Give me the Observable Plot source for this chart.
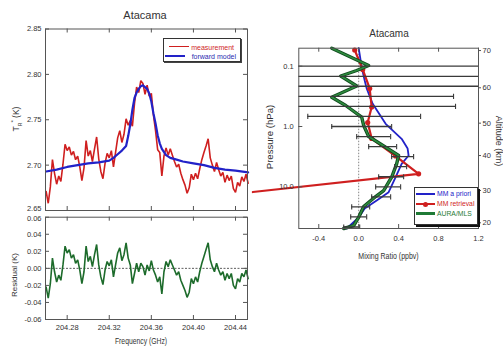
<!DOCTYPE html>
<html><head><meta charset="utf-8">
<script src="https://cdn.jsdelivr.net/npm/d3@7"></script>
<script src="https://cdn.jsdelivr.net/npm/@observablehq/plot@0.6"></script>
<style>
body{margin:0;background:#fff;}
#root{position:relative;width:503px;height:347px;overflow:hidden;font-family:"Liberation Sans",Arial,sans-serif;color:#222;background:#fff;}
.lab{position:absolute;white-space:nowrap;line-height:1;}
svg{overflow:visible;}
</style></head><body><div id="root"></div>
<script>
// ---------- Left panels: spectrum and residual ----------
const specFreq = [204.260,204.262,204.264,204.266,204.268,204.270,204.272,204.274,204.276,204.278,
204.280,204.282,204.284,204.286,204.288,204.290,204.292,204.294,204.296,204.298,
204.300,204.302,204.304,204.306,204.308,204.310,204.312,204.314,204.316,204.318,
204.320,204.322,204.324,204.326,204.328,204.330,204.332,204.334,204.336,204.338,
204.340,204.342,204.344,204.346,204.348,204.350,204.352,204.354,204.356,204.358,
204.360,204.362,204.364,204.366,204.368,204.370,204.372,204.374,204.376,204.378,
204.380,204.382,204.384,204.386,204.388,204.390,204.392,204.394,204.396,204.398,
204.400,204.402,204.404,204.406,204.408,204.410,204.412,204.414,204.416,204.418,
204.420,204.422,204.424,204.426,204.428,204.430,204.432,204.434,204.436,204.438,
204.440,204.442,204.444,204.446,204.448,204.450,204.452];
const measurement = [2.671,2.658,2.676,2.706,2.691,2.679,2.688,2.682,2.701,2.723,
2.716,2.720,2.711,2.715,2.706,2.710,2.698,2.683,2.697,2.727,
2.710,2.716,2.704,2.718,2.731,2.707,2.693,2.685,2.702,2.713,
2.708,2.716,2.698,2.714,2.730,2.738,2.725,2.734,2.751,2.744,
2.749,2.743,2.768,2.786,2.780,2.793,2.790,2.778,2.788,2.776,
2.779,2.755,2.738,2.717,2.714,2.688,2.710,2.719,2.711,2.718,
2.711,2.704,2.698,2.701,2.691,2.684,2.678,2.669,2.675,2.690,
2.684,2.691,2.685,2.696,2.706,2.714,2.721,2.729,2.708,2.700,
2.693,2.703,2.695,2.688,2.692,2.681,2.689,2.683,2.688,2.674,
2.670,2.681,2.677,2.687,2.682,2.690,2.680];
const residual = [-0.022,-0.035,-0.018,0.012,-0.004,-0.016,-0.008,-0.014,0.004,0.026,
0.018,0.022,0.012,0.016,0.006,0.010,-0.002,-0.018,-0.004,0.026,
0.008,0.014,0.002,0.016,0.028,0.004,-0.010,-0.019,-0.002,0.008,
0.003,0.010,-0.010,0.004,0.018,0.024,0.009,0.016,0.030,0.012,
0.004,-0.018,-0.006,0.006,-0.004,0.006,0.002,-0.008,0.004,-0.003,
0.009,-0.002,-0.008,-0.016,-0.010,-0.030,-0.004,0.008,0.002,0.010,
0.004,-0.002,-0.008,-0.004,-0.014,-0.020,-0.026,-0.034,-0.028,-0.012,
-0.018,-0.010,-0.016,-0.004,0.006,0.014,0.022,0.030,0.010,0.002,
-0.004,0.006,-0.002,-0.008,-0.004,-0.014,-0.006,-0.012,-0.006,-0.020,
-0.024,-0.012,-0.016,-0.006,-0.010,-0.002,-0.012];
const modelFreq = [204.260,204.270,204.280,204.290,204.300,204.310,204.320,204.324,204.328,204.332,
204.336,204.338,204.340,204.342,204.344,204.346,204.348,204.350,204.352,204.354,
204.356,204.358,204.360,204.362,204.364,204.366,204.368,204.370,204.374,204.378,
204.384,204.390,204.400,204.410,204.420,204.430,204.440,204.452];
const forwardModel = [2.693,2.695,2.698,2.700,2.702,2.703,2.705,2.708,2.712,2.716,
2.721,2.732,2.745,2.761,2.774,2.780,2.784,2.787,2.788,2.786,
2.784,2.779,2.770,2.757,2.746,2.733,2.724,2.718,2.711,2.708,
2.706,2.704,2.702,2.700,2.697,2.695,2.694,2.692];
const freqTicks = [204.28,204.32,204.36,204.40,204.44];
const tempTicks = [2.65,2.70,2.75,2.80,2.85];
const residTicks = [-0.06,-0.04,-0.02,0.00,0.02,0.04,0.06];

// ---------- Right panel: profiles ----------
const aprioriP = [0.0503,0.1039,0.1726,0.2343,0.4202,0.902,1.600,2.317,3.027,4.156,6.932,12.29,16.88,22.90,32.29,49.1];
const aprioriV = [0.00,0.03,0.06,0.08,0.14,0.27,0.43,0.49,0.50,0.43,0.37,0.30,0.18,0.06,0.00,-0.12];
const retrievalP = [0.0539,0.1134,0.2343,0.4749,0.8584,1.581,3.085,6.087,12.2];
const retrievalV = [-0.04,0.04,0.11,0.13,0.09,0.13,0.37,0.60,-1.06];
const mlsP = [0.0503,0.0974,0.1178,0.1454,0.2130,0.3266,0.4484,0.7011,0.9625,1.465,3.027,4.156,6.932,11.52,14.49,21.22,31.93,43.84,49.1];
const mlsV = [-0.27,0.10,-0.02,-0.18,-0.02,-0.27,-0.13,0.03,0.05,0.10,0.40,0.38,0.33,0.25,0.17,0.05,0.00,-0.05,-0.15];
const errP = [0.1,0.147,0.215,0.316,0.464,0.681,1.0,1.47,2.15,3.16,4.64,6.81,10.0,14.7,21.5,31.6,46.4];
const errLo = [-1,-1,-1,-1,-1,-0.51,-0.27,-0.02,0.10,0.33,0.36,0.20,0.17,0.13,-0.07,-0.08,-0.15];
const errHi = [2,2,2,0.95,0.97,0.62,0.33,0.32,0.38,0.55,0.48,0.45,0.42,0.32,0.11,0.08,0.01];
const mixTicks = [-0.4,0.0,0.4,0.8,1.2];
const presTicks = [0.1,1,10];
const altLabels = [20,30,40,50,60,70];
const altPressure = [39.5,11.5,3.03,0.88,0.228,0.055];

// colours
const RED = "#cf1f1f", BLUE = "#2222c8", GREEN = "#1f7a35", DKGREEN = "#0f4a1d", AX = "#555";

const root = document.getElementById("root");
const baseStyle = {background:"transparent", overflow:"visible", fontFamily:"Liberation Sans, Arial, sans-serif", fontSize:"7.5px", color:"#333"};
function place(el, left, top){
  el.style.position = "absolute"; el.style.left = left+"px"; el.style.top = top+"px";
  root.appendChild(el);
}
function label(html, cx, cy, size, opts={}){
  const d = document.createElement("div");
  d.className = "lab";
  d.innerHTML = html;
  d.style.left = cx+"px"; d.style.top = cy+"px";
  d.style.fontSize = size+"px";
  d.style.color = opts.color || "#333";
  d.style.transform = `translate(-50%,-50%) ${opts.rot ? `rotate(${opts.rot}deg)` : ""} ${opts.sx||opts.sy ? `scale(${opts.sx||1},${opts.sy||1})` : ""}`;
  root.appendChild(d);
  return d;
}

// ---- top-left spectrum ----
const spec = specFreq.map((f,i)=>({f, m: measurement[i], r: residual[i]}));
const model = modelFreq.map((f,i)=>({f, v: forwardModel[i]}));
const xDom = [204.2594, 204.4514];
{
  const W=250,H=213,ml=45,mr=3,mt=28.5,mb=3, fw=W-ml-mr, fh=H-mt-mb;
  const p = Plot.plot({
    width:W, height:H, marginLeft:ml, marginRight:mr, marginTop:mt, marginBottom:mb,
    style:baseStyle,
    x:{domain:xDom, axis:null},
    y:{domain:[2.65,2.85], axis:null},
    marks:[
      Plot.line(spec,{x:"f",y:"m",stroke:RED,strokeWidth:1.6,strokeLinejoin:"miter"}),
      Plot.line(model,{x:"f",y:"v",stroke:BLUE,strokeWidth:2.2}),
      Plot.frame({stroke:AX}),
      Plot.tickY(tempTicks,{y:d=>d, insetRight:fw-4, stroke:AX}),
      Plot.tickY(tempTicks,{y:d=>d, insetLeft:fw-4, stroke:AX}),
      Plot.tickX(freqTicks,{x:d=>d, insetBottom:fh-4, stroke:AX}),
      Plot.tickX(freqTicks,{x:d=>d, insetTop:fh-4, stroke:AX}),
      Plot.axisY({ticks:tempTicks.slice(1), tickSize:0, tickPadding:4, tickFormat:d=>d.toFixed(2), label:null}),
      Plot.axisY({ticks:tempTicks.slice(0,1), tickSize:0, tickPadding:4, dy:-1.5, tickFormat:d=>d.toFixed(2), label:null})
    ]
  });
  place(p, 0, 0);
}
// ---- bottom-left residual ----
{
  const W=250,H=134,ml=45,mr=3,mt=3.7,mb=28, fw=W-ml-mr, fh=H-mt-mb;
  const p = Plot.plot({
    width:W, height:H, marginLeft:ml, marginRight:mr, marginTop:mt, marginBottom:mb,
    style:baseStyle,
    x:{domain:xDom, axis:null},
    y:{domain:[-0.06,0.06], axis:null},
    marks:[
      Plot.ruleY([0],{stroke:"#333",strokeWidth:0.8,strokeDasharray:"2,1.5"}),
      Plot.line(spec,{x:"f",y:"r",stroke:"#1d6b2b",strokeWidth:1.6,strokeLinejoin:"miter"}),
      Plot.frame({stroke:AX}),
      Plot.tickY(residTicks,{y:d=>d, insetRight:fw-4, stroke:AX}),
      Plot.tickY(residTicks,{y:d=>d, insetLeft:fw-4, stroke:AX}),
      Plot.tickX(freqTicks,{x:d=>d, insetBottom:fh-4, stroke:AX}),
      Plot.tickX(freqTicks,{x:d=>d, insetTop:fh-4, stroke:AX}),
      Plot.axisY({ticks:residTicks.slice(0,-1), tickSize:0, tickPadding:4, tickFormat:d=>d.toFixed(2), label:null}),
      Plot.axisY({ticks:residTicks.slice(-1), tickSize:0, tickPadding:4, dy:1, tickFormat:d=>d.toFixed(2), label:null}),
      Plot.axisX({ticks:freqTicks, tickSize:0, tickPadding:5, tickFormat:d=>d.toFixed(2), label:null})
    ]
  });
  place(p, 0, 213);
}
// ---- right profile panel ----
{
  const W=253,H=260,ml=48.3,mr=25,mt=47.7,mb=32, fw=W-ml-mr, fh=H-mt-mb;
  const apriori = aprioriP.map((p,i)=>({p, v: aprioriV[i]}));
  const retr = retrievalP.map((p,i)=>({p, v: retrievalV[i]}));
  const mls = mlsP.map((p,i)=>({p, v: mlsV[i]}));
  const errs = errP.map((p,i)=>({p, lo: errLo[i], hi: errHi[i]}));
  const caps = errs.flatMap(e=>[{p:e.p, v:e.lo},{p:e.p, v:e.hi}]);
  const alts = altPressure.map((p,i)=>({p, a: String(altLabels[i])}));
  const vbar = {draw(ctx, size){ const h = Math.sqrt(size/Math.PI); ctx.moveTo(0,-h); ctx.lineTo(0,h); }};
  const p = Plot.plot({
    width:W, height:H, marginLeft:ml, marginRight:mr, marginTop:mt, marginBottom:mb,
    style:baseStyle,
    x:{domain:[-0.6,1.2], axis:null},
    y:{type:"log", domain:[0.0503,49.1], reverse:true, axis:null},
    marks:[
      Plot.ruleX([0],{stroke:"#666",strokeWidth:0.8,strokeDasharray:"1.5,1.5"}),
      Plot.line(apriori,{x:"v",y:"p",stroke:BLUE,strokeWidth:1.8}),
      Plot.line(retr,{x:"v",y:"p",stroke:RED,strokeWidth:2.2}),
      Plot.dot(retr.filter(d=>d.v>-0.6),{x:"v",y:"p",r:2.6,fill:RED}),
      Plot.line(mls,{x:"v",y:"p",stroke:DKGREEN,strokeWidth:3.4}),
      Plot.line(mls,{x:"v",y:"p",stroke:"#2e8b3e",strokeWidth:1.6}),
      Plot.ruleY(errs,{y:"p",x1:"lo",x2:"hi",stroke:"#3a3a3a",strokeWidth:1.3,clip:true}),
      Plot.dot(caps,{x:"v",y:"p",symbol:vbar,r:2.6,fill:"none",stroke:"#3a3a3a",strokeWidth:1.1,clip:true}),
      Plot.frame({stroke:AX}),
      Plot.tickY(presTicks,{y:d=>d, insetRight:fw-4, stroke:AX}),
      Plot.tickX(mixTicks,{x:d=>d, insetBottom:fh-4, stroke:AX}),
      Plot.tickX(mixTicks,{x:d=>d, insetTop:fh-4, stroke:AX}),
      Plot.tickY(alts,{y:"p", insetLeft:fw, insetRight:-3, stroke:AX}),
      Plot.text(alts,{y:"p", text:"a", frameAnchor:"right", dx:4, textAnchor:"start", fill:"#333"}),
      Plot.axisY({ticks:presTicks, tickSize:0, tickPadding:5, tickFormat:d=>d.toFixed(1), label:null}),
      Plot.axisX({ticks:mixTicks, tickSize:0, tickPadding:7, tickFormat:d=>d.toFixed(1), label:null})
    ]
  });
  place(p, 250, 0);
}

// ---- titles and axis labels ----
label("Atacama", 145, 15, 11);
label("Atacama", 389, 34, 10);
label("T<sub style='font-size:0.6em'>R</sub><sup style='font-size:0.7em'>*</sup> (K)", 16.5, 119, 8.5, {rot:-90});
label("Residual (K)", 15, 275, 8, {rot:-90});
label("Frequency (GHz)", 141, 342, 6.8, {sy:1.25});
label("Pressure (hPa)", 270, 137, 9.6, {rot:-90});
label("Altitude (km)", 497.5, 141, 9, {rot:90});
label("Mixing Ratio (ppbv)", 388.5, 256, 7, {sy:1.25});

// ---- legends ----
function box(l,t,w,h,shadow){
  const d=document.createElement("div");
  d.style.cssText=`position:absolute;left:${l}px;top:${t}px;width:${w}px;height:${h}px;border:1px solid #333;background:#fff;box-shadow:${shadow};`;
  root.appendChild(d);
}
function hline(x1,x2,y,color,w){
  const d=document.createElement("div");
  d.style.cssText=`position:absolute;left:${x1}px;top:${y-w/2}px;width:${x2-x1}px;height:${w}px;background:${color};`;
  root.appendChild(d);
}
function ltext(txt,x,y,color,size,align){
  const d=document.createElement("div");
  d.className="lab"; d.textContent=txt;
  d.style.fontSize=size+"px"; d.style.color=color; d.style.top=(y)+"px";
  if(align==="right"){ d.style.right=(503-x)+"px"; d.style.transform="translateY(-50%)"; }
  else { d.style.left=x+"px"; d.style.transform="translateY(-50%)"; }
  root.appendChild(d);
}
box(163,38,76,22,"1px 1px 0 #444");
hline(169,189,46.5,RED,1);
ltext("measurement",234,46.5,RED,7,"right");
hline(165,185,55.5,BLUE,2);
ltext("forward model",236,55.5,"#2b2bb0",7,"right");

box(413.5,186.5,62,36,"2px 2px 0 #111");
hline(416,435,194,BLUE,2);
ltext("MM a priori",437,194,BLUE,6.8);
hline(416,435,204,RED,2);
{ const d=document.createElement("div"); d.style.cssText=`position:absolute;left:${425.5-2.5}px;top:${204-2.5}px;width:5px;height:5px;border-radius:50%;background:${RED};`; root.appendChild(d); }
ltext("MM retrieval",437,204,RED,6.8);
hline(416,435,213.5,GREEN,2.4);
ltext("AURA/MLS",437,213.5,GREEN,6.8);
</script></body></html>
